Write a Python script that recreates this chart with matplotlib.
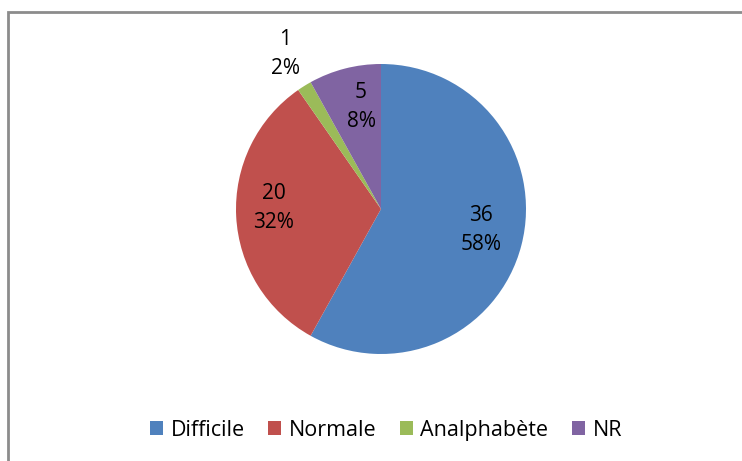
import matplotlib.pyplot as plt
from matplotlib.patches import Rectangle

categories = ["Difficile", "Normale", "Analphabète", "NR"]
counts = [36, 20, 1, 5]
percents = ["58%", "32%", "2%", "8%"]
colors = ["#4F81BD", "#C0504D", "#9BBB59", "#8064A2"]

plt.rcParams['font.family'] = ['Open Sans', 'DejaVu Sans']

W, H = 742, 461
fig = plt.figure(figsize=(W / 100, H / 100), dpi=100)

# chart border (only top/left visible, rest cropped)
fig.patches.append(Rectangle((8 / W, -0.02), 1.05, (H - 12) / H + 0.02,
                             transform=fig.transFigure, fill=False,
                             edgecolor="#8C8C8C", linewidth=2))

# pie axes: center (381, 209), radius 145 px
cx, cy, r = 381, 209, 145
ax = fig.add_axes([(cx - r) / W, (H - cy - r) / H, 2 * r / W, 2 * r / H])
wedges, _ = ax.pie(counts, colors=colors, startangle=90, counterclock=False,
                   radius=1.0)
ax.set_xlim(-1, 1)
ax.set_ylim(-1, 1)
ax.set_aspect('equal')

# data labels (position in px, from the picture)
label_pos = [(481, 230), (274, 208), (285, 54), (361, 107)]
for (px, py), n, p in zip(label_pos, counts, percents):
    fig.text(px / W, 1 - py / H, f"{n}\n{p}", ha='center', va='center',
             fontsize=15, linespacing=1.55, color='black')

leg = fig.legend(wedges, categories, loc='center', ncol=4,
                 bbox_to_anchor=(386 / W, 1 - 430 / H), frameon=False,
                 fontsize=15.5, handlelength=0.6, handleheight=0.6,
                 handletextpad=0.35, columnspacing=1.1)

fig.savefig("out.png", dpi=100)
